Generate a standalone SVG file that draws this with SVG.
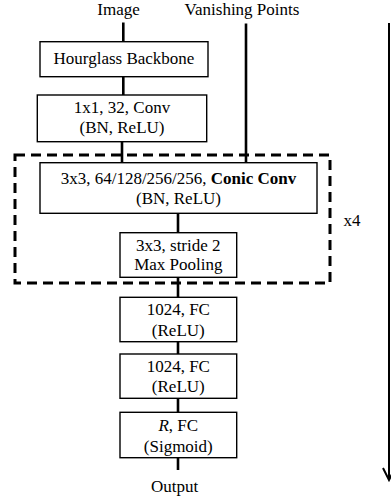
<svg xmlns="http://www.w3.org/2000/svg" width="391" height="499" viewBox="0 0 391 499">
<style>
text{font-family:"Liberation Serif","Times New Roman",serif;font-size:17px;fill:#000;text-anchor:middle}
.box{fill:#fff;stroke:#000;stroke-width:1.4}
.c{stroke:#000;stroke-width:2.6;fill:none}
</style>
<rect width="391" height="499" fill="#fff"/>
<g id="connectors">
<line class="c" x1="123.3" y1="22.5" x2="123.3" y2="42"/>
<line class="c" x1="123.3" y1="77" x2="123.3" y2="95"/>
<line class="c" x1="122" y1="141.5" x2="122" y2="163"/>
<line class="c" x1="246" y1="23.5" x2="246" y2="163"/>
<line class="c" x1="178" y1="213" x2="178" y2="233"/>
<line class="c" x1="178" y1="277" x2="178" y2="297.5"/>
<line class="c" x1="178" y1="341.5" x2="178" y2="354"/>
<line class="c" x1="178" y1="398" x2="178" y2="412.5"/>
<line class="c" x1="178" y1="457.5" x2="178" y2="470"/>
<path d="M389 23 V480 M383 468 L389 480 L395 468" stroke="#000" stroke-width="2" fill="none"/>
</g>
<g id="repeat">
<rect x="15" y="155" width="315" height="128" fill="none" stroke="#000" stroke-width="3" stroke-dasharray="10,6"/>
<text x="352" y="226">x4</text>
</g>
<g id="input-image"><text x="118.5" y="15">Image</text></g>
<g id="input-vp"><text x="242" y="15">Vanishing Points</text></g>
<g id="hourglass">
<rect class="box" x="40" y="41.7" width="168" height="35"/>
<text x="124" y="63.5">Hourglass Backbone</text>
</g>
<g id="conv1x1">
<rect class="box" x="37.3" y="95" width="169.4" height="46.7"/>
<text x="122" y="112.5">1x1, 32, Conv</text>
<text x="122" y="133">(BN, ReLU)</text>
</g>
<g id="conic">
<rect class="box" x="40" y="162.7" width="277" height="50.6"/>
<text x="178.5" y="183.5">3x3, 64/128/256/256, <tspan font-weight="bold">Conic Conv</tspan></text>
<text x="178.5" y="203.5">(BN, ReLU)</text>
</g>
<g id="maxpool">
<rect class="box" x="120" y="232.7" width="116.7" height="44.6"/>
<text x="178.3" y="250.5">3x3, stride 2</text>
<text x="178.3" y="270">Max Pooling</text>
</g>
<g id="fc1">
<rect class="box" x="120" y="297.3" width="116.7" height="44.4"/>
<text x="178.3" y="315">1024, FC</text>
<text x="178.3" y="335.5">(ReLU)</text>
</g>
<g id="fc2">
<rect class="box" x="120" y="354" width="116.7" height="44.3"/>
<text x="178.3" y="372">1024, FC</text>
<text x="178.3" y="392">(ReLU)</text>
</g>
<g id="fc3">
<rect class="box" x="120" y="412.3" width="116.7" height="45.4"/>
<text x="178.3" y="430.5"><tspan font-style="italic">R</tspan>, FC</text>
<text x="178.3" y="451.5">(Sigmoid)</text>
</g>
<g id="output"><text x="174.5" y="492">Output</text></g>
</svg>
